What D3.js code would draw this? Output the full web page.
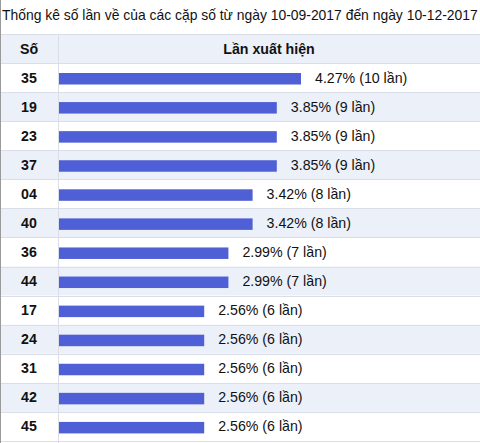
<!DOCTYPE html>
<html>
<head>
<meta charset="utf-8">
<script src="https://cdn.jsdelivr.net/npm/d3@7"></script>
<style>
  body { margin: 0; background: #fff; }
  svg { display: block; font-family: "Liberation Sans", Arial, sans-serif; }
</style>
</head>
<body>
<div id="chart"></div>
<script>
// Data
const TITLE = "Thống kê số lần về của các cặp số từ ngày 10-09-2017 đến ngày 10-12-2017"
const HEADERS = ["Số", "Lần xuất hiện"]
const numbers = ["35", "19", "23", "37", "04", "40", "36", "44", "17", "24", "31", "42", "45"]
const counts = [10, 9, 9, 9, 8, 8, 7, 7, 6, 6, 6, 6, 6]
const percents = ["4.27%", "3.85%", "3.85%", "3.85%", "3.42%", "3.42%", "2.99%", "2.99%", "2.56%", "2.56%", "2.56%", "2.56%", "2.56%"]

// Settings
const SIZE = [480, 443]
const HEAD = {top: 34, height: 29}
const COL = 58
const BAR_COLOR = "#4f5fd6"
const ALT_BG = "#ebf0f9"
const LINE = "#d9dee8"
const FONT = 14.2

const rows = numbers.map((n, i) => ({n: n, c: counts[i], p: percents[i], i: i}))

const svg = d3.select("#chart").append("svg")
  .attr("width", SIZE[0])
  .attr("height", SIZE[1])

const y = d3.scaleBand()
  .domain(numbers)
  .range([HEAD.top + HEAD.height, SIZE[1] - 2])
  .paddingInner(0).paddingOuter(0)

const x = d3.scaleLinear()
  .domain([0, 10])
  .range([COL + 1, 301])

// title
svg.append("text")
  .attr("x", 2)
  .attr("y", 19.5)
  .attr("font-size", 13.9)
  .attr("fill", "#111")
  .text(TITLE)

// header
svg.append("rect")
  .attr("x", 0).attr("y", HEAD.top)
  .attr("width", SIZE[0]).attr("height", HEAD.height)
  .attr("fill", ALT_BG)

// row backgrounds
svg.append("g")
  .selectAll("rect")
  .data(rows)
  .join("rect")
    .attr("x", 0)
    .attr("y", d => y(d.n))
    .attr("width", SIZE[0])
    .attr("height", y.bandwidth())
    .attr("fill", d => d.i % 2 ? ALT_BG : "#fff")

// horizontal lines
svg.append("g")
  .selectAll("line")
  .data([HEAD.top, ...numbers.map(n => y(n)), y(numbers[numbers.length - 1]) + y.bandwidth()])
  .join("line")
    .attr("x1", 0).attr("x2", SIZE[0])
    .attr("y1", d => Math.round(d) + 0.5)
    .attr("y2", d => Math.round(d) + 0.5)
    .attr("stroke", LINE)

// column divider + left border
svg.append("line")
  .attr("x1", COL + 0.5).attr("x2", COL + 0.5)
  .attr("y1", HEAD.top).attr("y2", SIZE[1])
  .attr("stroke", LINE)
svg.append("line")
  .attr("x1", 0.5).attr("x2", 0.5)
  .attr("y1", 0).attr("y2", SIZE[1])
  .attr("stroke", "#9a9a9a")

// header text
svg.append("g")
  .attr("font-weight", "bold")
  .attr("font-size", FONT)
  .attr("fill", "#111")
  .attr("text-anchor", "middle")
  .selectAll("text")
  .data(HEADERS)
  .join("text")
    .attr("x", (d, i) => i ? (COL + SIZE[0]) / 2 : COL / 2)
    .attr("y", HEAD.top + HEAD.height / 2 + 5)
    .text(d => d)

// numbers
svg.append("g")
  .attr("font-weight", "bold")
  .attr("font-size", FONT)
  .attr("fill", "#111")
  .attr("text-anchor", "middle")
  .selectAll("text")
  .data(rows)
  .join("text")
    .attr("x", COL / 2)
    .attr("y", d => y(d.n) + y.bandwidth() / 2 + 5)
    .text(d => d.n)

// bars
svg.append("g")
  .attr("fill", BAR_COLOR)
  .selectAll("rect")
  .data(rows)
  .join("rect")
    .attr("x", x(0))
    .attr("y", d => y(d.n) + 10)
    .attr("width", d => x(d.c) - x(0))
    .attr("height", 11.5)

// value labels
svg.append("g")
  .attr("font-size", FONT)
  .attr("fill", "#111")
  .selectAll("text")
  .data(rows)
  .join("text")
    .attr("x", d => x(d.c) + 14)
    .attr("y", d => y(d.n) + y.bandwidth() / 2 + 5)
    .text(d => `${d.p} (${d.c} lần)`)
</script>
</body>
</html>
